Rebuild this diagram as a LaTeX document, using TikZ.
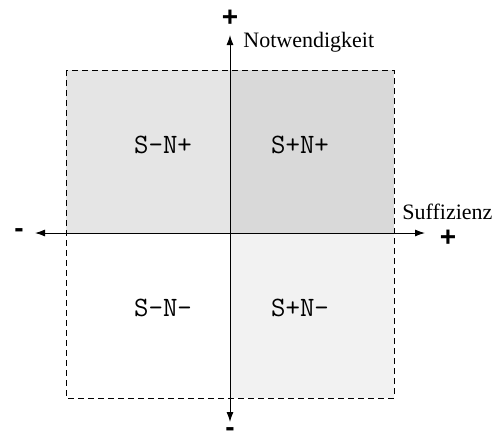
\documentclass[tikz,border=0pt]{standalone}
\usepackage{fontspec}
\setmainfont{Liberation Serif}
\setsansfont{Liberation Sans}
\usetikzlibrary{arrows.meta,positioning}
\definecolor{QuadA}{gray}{0.90}
\definecolor{QuadB}{gray}{0.85}
\definecolor{QuadC}{gray}{0.95}

\begin{document}
\begin{tikzpicture}[
    x=0.5pt, y=-0.5pt,
    quad/.style={font=\fontsize{14}{16}\ttfamily},
    axislabel/.style={font=\fontsize{11}{13}\selectfont, inner sep=0pt},
    sign/.style={font=\fontsize{14}{14}\sffamily\bfseries, inner sep=0pt},
    axis/.style={{Latex[length=5pt,width=3.5pt]}-{Latex[length=5pt,width=3.5pt]}, line width=0.5pt}
  ]
    \useasboundingbox (0,0) rectangle (497,441);
    % quadrants
    \fill[QuadA] (66,70) rectangle (230,233);
    \fill[QuadB] (230,70) rectangle (394,233);
    \fill[QuadC] (230,233) rectangle (394,398);
    \draw[dashed, line width=0.5pt, dash pattern=on 3pt off 2pt] (66,70) rectangle (394,398);
    % axes
    \coordinate (west) at (35,233);
    \coordinate (east) at (425,233);
    \coordinate (north) at (230,35);
    \coordinate (south) at (230,422);
    \draw[axis] (west) -- (east);
    \draw[axis] (south) -- (north);
    \node[sign] (minusx) at (19,233) {-};
    \node[sign] (plusx) at (448,238) {+};
    \node[sign] (plusy) at (230,18) {+};
    \node[sign] (minusy) at (230,432) {-};
    \node[axislabel, anchor=west] (nw) at (243,42) {Notwendigkeit};
    \node[axislabel, anchor=west] (su) at (402,212) {Suffizienz};
    \node[quad] (snp) at (163,145) {S-N+};
    \node[quad] (spnp) at (300,145) {S+N+};
    \node[quad] (snn) at (163,308) {S-N-};
    \node[quad] (spnn) at (300,308) {S+N-};
  \end{tikzpicture}
\end{document}
